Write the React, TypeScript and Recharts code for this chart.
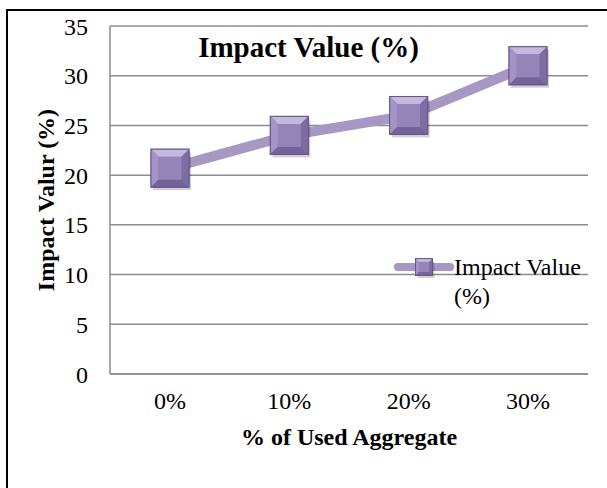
import React from "react";
import {
  CartesianGrid,
  Line,
  LineChart,
  XAxis,
  YAxis,
} from "recharts";

const categories = ["0%", "10%", "20%", "30%"];
const impactValues = [20.7, 24.0, 26.0, 31.0];
const yTicks = [0, 5, 10, 15, 20, 25, 30, 35];

const SERIES_NAME = "Impact Value (%)";

const data = categories.map((name, i) => ({ name, impact: impactValues[i] }));

const FONT = '"Liberation Serif", "Times New Roman", serif';
const LINE_COLOR = "#a697c3";

function BevelSquare({ cx, cy, size }: { cx: number; cy: number; size: number }) {
  const h = size / 2;
  const b = size * 0.2;
  const x0 = cx - h;
  const y0 = cy - h;
  const x1 = cx + h;
  const y1 = cy + h;
  return (
    <g>
      <rect x={x0 + 2} y={y0 + 3} width={size} height={size} fill="#000" opacity={0.18} />
      <rect x={x0} y={y0} width={size} height={size} fill="#8d7cb1" stroke="#66578a" strokeWidth={1} />
      <polygon points={`${x0},${y0} ${x1},${y0} ${x1 - b},${y0 + b} ${x0 + b},${y0 + b}`} fill="#c4b8de" />
      <polygon points={`${x0},${y0} ${x0 + b},${y0 + b} ${x0 + b},${y1 - b} ${x0},${y1}`} fill="#a393c6" />
      <polygon points={`${x1},${y0} ${x1},${y1} ${x1 - b},${y1 - b} ${x1 - b},${y0 + b}`} fill="#7d6ca2" />
      <polygon points={`${x0},${y1} ${x0 + b},${y1 - b} ${x1 - b},${y1 - b} ${x1},${y1}`} fill="#73639a" />
      <rect x={x0 + b} y={y0 + b} width={size - 2 * b} height={size - 2 * b} fill="#9584b8" />
      <rect x={x0} y={y0} width={size} height={size} fill="none" stroke="#66578a" strokeWidth={1} />
    </g>
  );
}

function renderDot(props: any) {
  const { cx, cy, index } = props;
  if (cx == null || cy == null) return <g key={index} />;
  return (
    <g key={index}>
      <BevelSquare cx={cx} cy={cy} size={38} />
    </g>
  );
}

function LegendBox() {
  return (
    <div
      style={{
        position: "absolute",
        left: 393,
        top: 253,
        width: 214,
        height: 60,
        fontFamily: FONT,
        fontSize: 24,
        color: "#000",
        zIndex: 2,
      }}
    >
      <svg width={62} height={22} style={{ position: "absolute", left: 0, top: 3 }}>
        <line x1={5} y1={11} x2={57} y2={11} stroke={LINE_COLOR} strokeWidth={8} strokeLinecap="round" />
        <BevelSquare cx={31} cy={11} size={17} />
      </svg>
      <div style={{ position: "absolute", left: 61, top: 0, lineHeight: "29px", whiteSpace: "nowrap" }}>
        Impact Value
        <div>(%)</div>
      </div>
    </div>
  );
}

export default function App() {
  return (
    <div style={{ position: "absolute", left: 0, top: 0, width: 607, height: 488, overflow: "hidden", background: "#fff" }}>
      <div
        style={{
          position: "absolute",
          left: 6,
          top: 9,
          width: 640,
          height: 520,
          borderLeft: "2px solid #000",
          borderTop: "2px solid #000",
        }}
      />
      <div
        style={{
          position: "absolute",
          left: 0,
          width: 617,
          top: 28,
          textAlign: "center",
          fontFamily: FONT,
          fontWeight: "bold",
          fontSize: 29,
          lineHeight: "38px",
          zIndex: 2,
        }}
      >
        {SERIES_NAME}
      </div>
      <LineChart
        width={607}
        height={488}
        data={data}
        margin={{ top: 26, right: 19, left: 50, bottom: 84 }}
        style={{ position: "absolute", left: 0, top: 0, fontFamily: FONT }}
      >
        <CartesianGrid vertical={false} stroke="#8c8c8c" strokeWidth={1.5} />
        <XAxis
          dataKey="name"
          padding={{ left: 60, right: 60 }}
          tickLine={false}
          tickSize={0}
          tickMargin={18}
          axisLine={{ stroke: "#8c8c8c", strokeWidth: 1.5 }}
          tick={{ fontSize: 24, fill: "#000", fontFamily: FONT }}
          height={30}
          label={{
            value: "% of Used Aggregate",
            position: "bottom",
            offset: 24,
            style: { fontSize: 24, fontWeight: "bold", fill: "#000", fontFamily: FONT },
          }}
        />
        <YAxis
          domain={[0, 35]}
          ticks={yTicks}
          tickLine={false}
          tickSize={0}
          tickMargin={22}
          width={60}
          axisLine={{ stroke: "#8c8c8c", strokeWidth: 1.5 }}
          tick={{ fontSize: 24, fill: "#000", fontFamily: FONT }}
          label={{
            value: "Impact Valur (%)",
            angle: -90,
            position: "left",
            offset: 5,
            style: { fontSize: 24, fontWeight: "bold", fill: "#000", fontFamily: FONT, textAnchor: "middle" },
          }}
        />
        <Line
          type="linear"
          dataKey="impact"
          name={SERIES_NAME}
          stroke={LINE_COLOR}
          strokeWidth={10}
          dot={renderDot}
          activeDot={false}
          isAnimationActive={false}
        />
      </LineChart>
      <LegendBox />
    </div>
  );
}
